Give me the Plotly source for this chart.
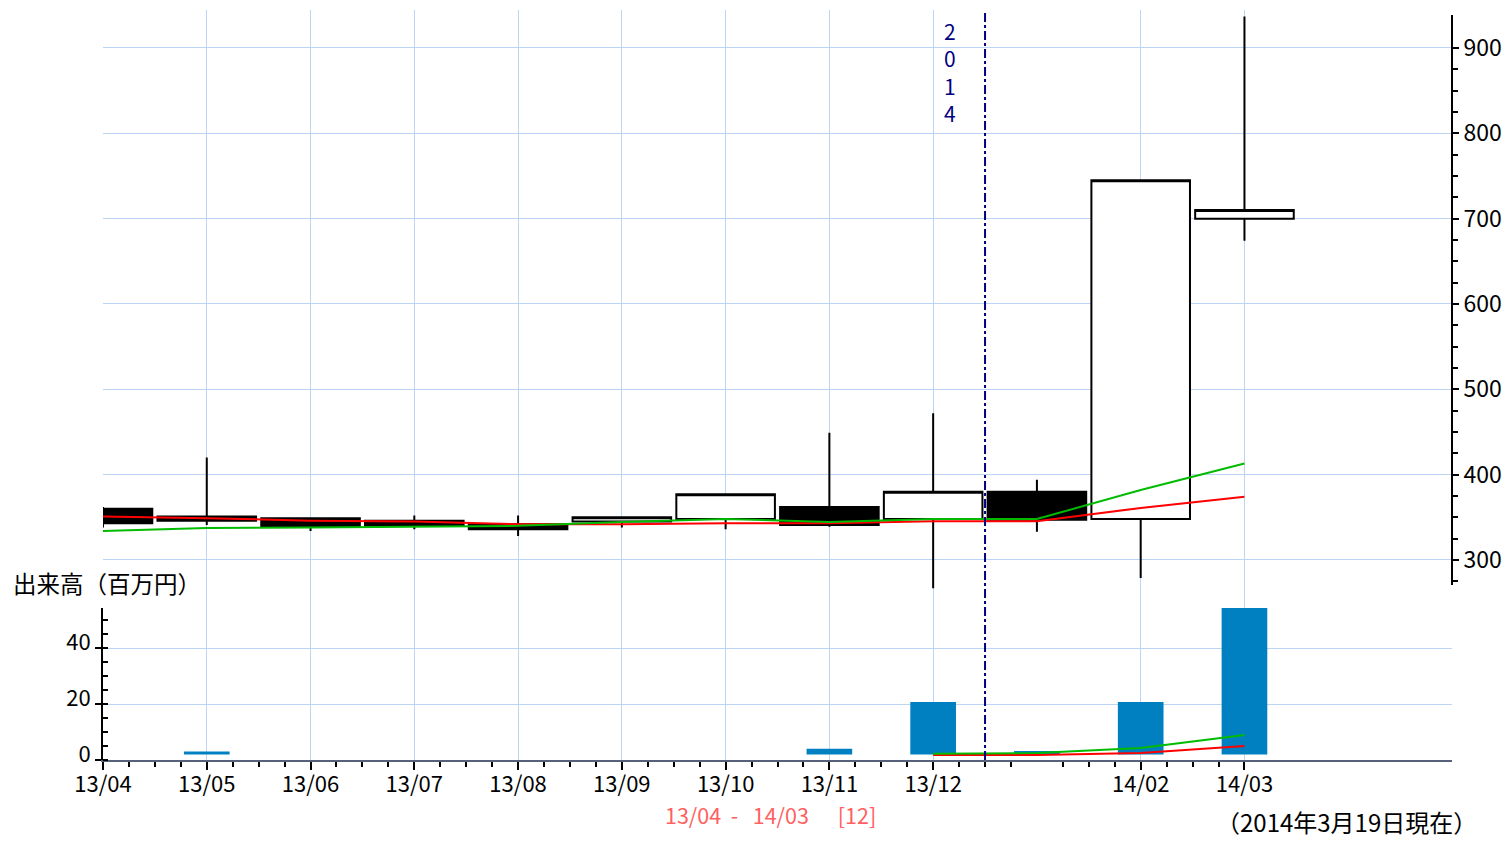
import plotly.graph_objects as go

# ---------------- data ----------------
months = ["13/04", "13/05", "13/06", "13/07", "13/08", "13/09",
          "13/10", "13/11", "13/12", "14/01", "14/02", "14/03"]
opens = [360, 351, 349, 346, 342, 345, 348, 362, 348, 380, 348, 700]
highs = [362, 420, 350, 352, 352, 351, 377, 449, 472, 394, 745, 937]
lows = [338, 341, 334, 336, 328, 338, 336, 339, 267, 333, 279, 674]
closes = [343, 346, 339, 340, 336, 350, 377, 341, 380, 347, 745, 710]
ma_short = [334, 337.5, 338, 339, 340, 344.5, 348, 344.5, 348, 348, 382, 413]
ma_long = [351, 349, 346, 345, 342, 342, 343, 343, 345.5, 345.5, 361, 374]
volume = [0, 3.0, 0, 0, 0, 0, 0, 4.0, 20.7, 3.2, 20.7, 54.3]
vol_ma_short = [None] * 8 + [2.2, 2.5, 4.3, 8.9]
vol_ma_long = [None] * 8 + [1.8, 1.8, 2.5, 5.0]
price_ticks = [300, 400, 500, 600, 700, 800, 900]
vol_ticks = [0, 20, 40]
hidden_label = "14/01"
year_text = "2014"
vol_title = "出来高（百万円）"
period_text = "13/04\u00a0\u00a0-\u00a0\u00a0\u00a014/03\u00a0\u00a0\u00a0\u00a0\u00a0\u00a0[12]"
asof_text = "（2014年3月19日現在）"

# ---------------- styling ----------------
FONT = "Noto Sans CJK JP"
GRID = "#bcd5f7"
VOL_BASE = 2.0
xs = list(range(len(months)))
tick_idx = [i for i, m in enumerate(months) if m != hidden_label]
year_idx = months.index(hidden_label) - 0.5

fig = go.Figure()

fig.add_trace(go.Candlestick(
    x=xs, open=opens, high=highs, low=lows, close=closes,
    increasing=dict(line=dict(color="black", width=2), fillcolor="white"),
    decreasing=dict(line=dict(color="black", width=2), fillcolor="black"),
    whiskerwidth=0, xaxis="x", yaxis="y", showlegend=False,
))
fig.add_trace(go.Scatter(x=xs, y=ma_long, mode="lines",
                         line=dict(color="#ff0000", width=2), yaxis="y", showlegend=False))
fig.add_trace(go.Scatter(x=xs, y=ma_short, mode="lines",
                         line=dict(color="#00bb00", width=2), yaxis="y", showlegend=False))

fig.add_trace(go.Bar(x=xs, y=[max(v - VOL_BASE, 0) for v in volume], base=VOL_BASE,
                     width=0.44, marker=dict(color="#0080c0", line=dict(width=0)),
                     xaxis="x", yaxis="y2", showlegend=False))
fig.add_trace(go.Scatter(x=xs, y=vol_ma_long, mode="lines",
                         line=dict(color="#ff0000", width=2), yaxis="y2", showlegend=False))
fig.add_trace(go.Scatter(x=xs, y=vol_ma_short, mode="lines",
                         line=dict(color="#00bb00", width=2), yaxis="y2", showlegend=False))

minor_x = [i / 4 for i in range(0, 4 * 11 + 1) if i % 4 != 0]

fig.update_layout(
    width=1511, height=841,
    margin=dict(l=103, r=59, t=10, b=81),
    paper_bgcolor="white", plot_bgcolor="rgba(0,0,0,0)",
    font=dict(family=FONT, size=23, color="black"),
    boxgap=0.05, boxgroupgap=0,
    xaxis=dict(
        anchor="y2", range=[0, 13], tickmode="array",
        tickvals=tick_idx, ticktext=[months[i] for i in tick_idx],
        showgrid=True, gridcolor=GRID, gridwidth=1,
        ticks="outside", ticklen=8, tickwidth=2, tickcolor="black",
        ticklabelstandoff=-4,
        showline=True, linecolor="#56627a", linewidth=2,
        minor=dict(tickvals=minor_x, ticks="outside", ticklen=5, tickwidth=2,
                   tickcolor="black", showgrid=False),
        rangeslider=dict(visible=False), zeroline=False,
        tickfont=dict(family=FONT, size=22),
    ),
    yaxis=dict(
        domain=[0, 1], side="right", anchor="x", range=[65.6, 944.5],
        tickmode="array", tickvals=price_ticks,
        showgrid=True, gridcolor=GRID, gridwidth=1,
        ticks="outside", ticklen=6, tickwidth=2, tickcolor="black",
        showline=False, zeroline=False,
        minor=dict(tickvals=[v for v in range(275, 900, 25) if v % 100 != 0],
                   ticks="outside", ticklen=5, tickwidth=2, tickcolor="black",
                   showgrid=False),
        tickfont=dict(family=FONT, size=23),
    ),
    yaxis2=dict(
        domain=[0, 0.2027], side="left", anchor="x", range=[0, 54.3],
        tickmode="array", tickvals=vol_ticks,
        showgrid=True, gridcolor=GRID, gridwidth=1,
        ticks="outside", ticklen=6, tickwidth=2, tickcolor="black",
        ticklabelshift=-6,
        showline=True, linecolor="black", linewidth=2, zeroline=False,
        minor=dict(dtick=5, tick0=0, ticks="inside", ticklen=5, tickwidth=2,
                   tickcolor="black", showgrid=False),
        tickfont=dict(family=FONT, size=22),
    ),
    shapes=[
        dict(type="line", xref="paper", yref="y", x0=1, x1=1, y0=270.7, y1=938.7,
             line=dict(color="black", width=2)),
        dict(type="line", xref="x", yref="paper", x0=year_idx, x1=year_idx, y0=0, y1=1,
             line=dict(color="#000080", width=2, dash="dashdot")),
    ],
    annotations=[
        dict(text="<br>".join(year_text), xref="x", yref="paper", x=year_idx - 0.34, y=0.995,
             xanchor="center", yanchor="top", showarrow=False,
             font=dict(family=FONT, size=21, color="#000080")),
        dict(text=vol_title, xref="paper", yref="paper", x=-0.068, y=0.236,
             xanchor="left", yanchor="middle", showarrow=False,
             font=dict(family=FONT, size=23.5, color="black")),
        dict(text=period_text, xref="paper", yref="paper", x=0.495, y=-0.0733,
             xanchor="center", yanchor="middle", showarrow=False,
             font=dict(family=FONT, size=21.5, color="#ff6060")),
        dict(text=asof_text, xref="paper", yref="paper", x=1.02, y=-0.108,
             xanchor="right", yanchor="bottom", showarrow=False,
             font=dict(family=FONT, size=24, color="black")),
    ],
)

fig.write_html("out.html", config={"displayModeBar": False},
               post_script="document.body.style.margin='0px';")
